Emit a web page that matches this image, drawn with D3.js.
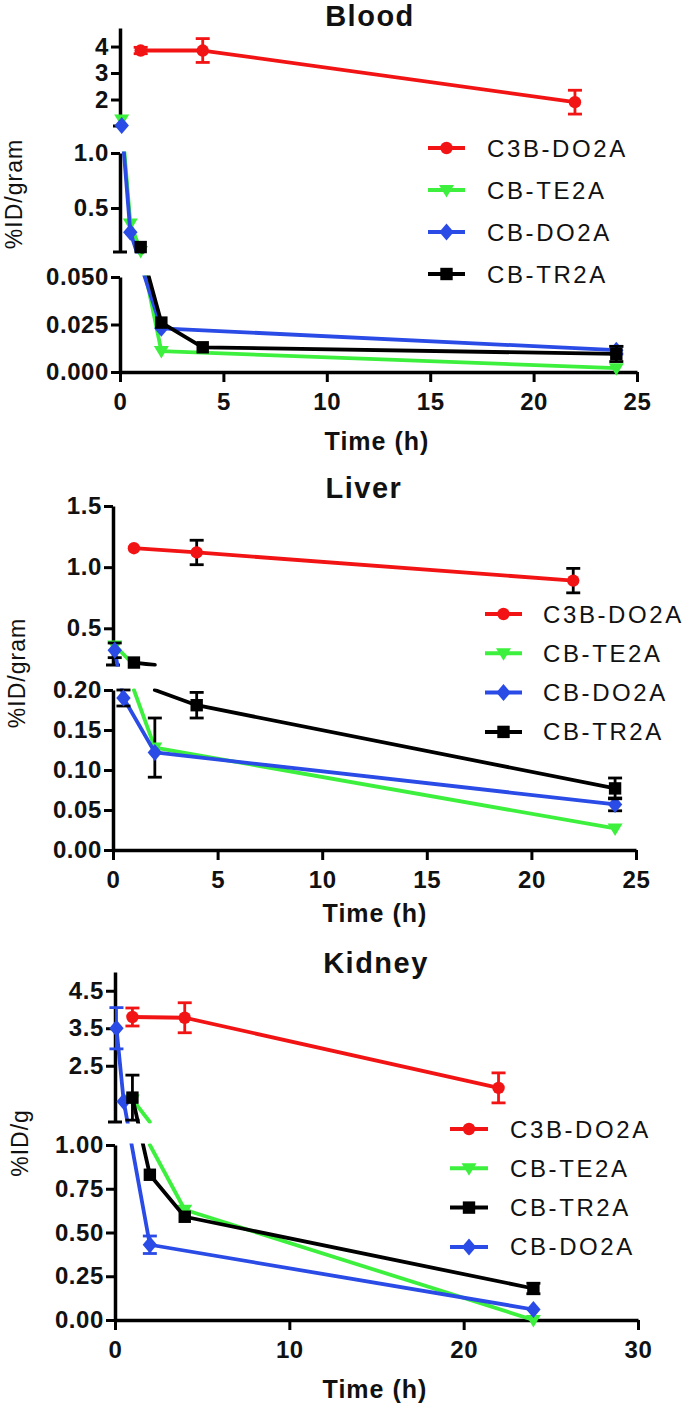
<!DOCTYPE html>
<html><head><meta charset="utf-8">
<script src="https://cdn.jsdelivr.net/npm/d3@7"></script>
<style>html,body{margin:0;padding:0;background:#fff;} svg{display:block;}</style>
</head><body>
<svg id="chart" width="687" height="1405"></svg>
<script>
// ---------------- DATA ----------------
const seriesNames = ["C3B-DO2A", "CB-TE2A", "CB-DO2A", "CB-TR2A"];
// each point: [time (h), mean, error]
const bloodC3B  = [[1,3.85,0.12],[4,3.85,0.45],[22,1.9,0.45]];
const bloodTE2A = [[0.083,1.25,0],[0.5,0.36,0],[1,0.11,0],[2,0.011,0],[24,0.002,0]];
const bloodDO2A = [[0.083,1.02,0],[0.5,0.28,0],[2,0.023,0],[24,0.0115,0.002]];
const bloodTR2A = [[1,0.145,0],[2,0.026,0],[4,0.013,0],[24,0.0095,0.004]];

const liverC3B  = [[1,1.155,0],[4,1.12,0.1],[22,0.89,0.1]];
const liverTE2A = [[0.083,0.36,0],[1,0.2,0],[2,0.128,0.037],[24,0.027,0]];
const liverDO2A = [[0.083,0.32,0.06],[0.5,0.19,0.01],[2,0.122,0],[24,0.057,0.008]];
const liverTR2A = [[1,0.22,0],[2,0.2,0],[4,0.181,0.016],[24,0.077,0.013]];

const kidneyC3B  = [[1,3.8,0.24],[4,3.78,0.4],[22,1.91,0.4]];
const kidneyTE2A = [[1,1.6,0],[2,1.0,0],[4,0.63,0],[24,0.0,0]];
const kidneyDO2A = [[0.083,3.5,0.55],[0.5,1.55,0],[2,0.43,0.05],[24,0.06,0]];
const kidneyTR2A = [[1,1.65,0.6],[2,0.83,0],[4,0.59,0],[24,0.18,0.03]];

const bloodSegDomains  = [[1.0,4.7],[0.1,1.0],[0,0.05]];
const bloodYTicks      = [[2,3,4],[0.5,1.0],[0,0.025,0.05]];
const bloodYFormats    = ["d",".1f",".3f"];
const bloodXTicks      = [0,5,10,15,20,25];

const liverSegDomains  = [[0.2,1.5],[0,0.2]];
const liverYTicks      = [[0.5,1.0,1.5],[0,0.05,0.1,0.15,0.2]];
const liverYFormats    = [".1f",".2f"];
const liverXTicks      = [0,5,10,15,20,25];

const kidneySegDomains = [[1.0,5.0],[0,1.0]];
const kidneyYTicks     = [[2.5,3.5,4.5],[0,0.25,0.5,0.75,1.0]];
const kidneyYFormats   = [".1f",".2f"];
const kidneyXTicks     = [0,10,20,30];

const panelTitles = ["Blood", "Liver", "Kidney"];
const yTitles = ["%ID/gram", "%ID/gram", "%ID/g"];
const xTitle = "Time (h)";

// ---------------- STYLE ----------------
const W = 687, H = 1405;
const FONT = "'Liberation Sans', Arial, Helvetica, sans-serif";
const colorOf = {"C3B-DO2A":"#f21414","CB-TE2A":"#3df03d","CB-DO2A":"#2a4be6","CB-TR2A":"#000000"};
const shapeOf = {"C3B-DO2A":"circle","CB-TE2A":"tri","CB-DO2A":"diamond","CB-TR2A":"square"};

const svg = d3.select("#chart");
const defs = svg.append("defs");
let clipId = 0;

function markerPath(shape) {
  const p = d3.path();
  if (shape === "circle") { p.arc(0,0,6.2,0,2*Math.PI); }
  else if (shape === "tri") { p.moveTo(-7.5,-5); p.lineTo(7.5,-5); p.lineTo(0,7.5); p.closePath(); }
  else if (shape === "diamond") { p.moveTo(0,-8.5); p.lineTo(7.2,0); p.lineTo(0,8.5); p.lineTo(-7.2,0); p.closePath(); }
  else { p.rect(-6.2,-6.2,12.4,12.4); }
  return p.toString();
}

function drawPanel(cfg) {
  const g = svg.append("g");
  const x = d3.scaleLinear().domain(cfg.xDomain).range([cfg.axisX, cfg.xEnd]);
  const segs = cfg.segDomains.map((d, i) => ({
    dom: d,
    range: cfg.segRanges[i],
    y: d3.scaleLinear().domain(d).range(cfg.segRanges[i])
  }));
  function cands(v) {
    const c = segs.filter(s => v >= s.dom[0] - 1e-9 && v <= s.dom[1] + 1e-9);
    if (c.length) return c;
    let best = segs[0], bd = Infinity;
    segs.forEach(s => {
      const d = Math.min(Math.abs(v - s.dom[0]), Math.abs(v - s.dom[1]));
      if (d < bd) { bd = d; best = s; }
    });
    return [best];
  }
  segs.forEach(s => {
    s.clip = "clip" + (clipId++);
    const y0 = Math.min(s.range[0], s.range[1]), y1 = Math.max(s.range[0], s.range[1]);
    defs.append("clipPath").attr("id", s.clip).append("rect")
      .attr("x", 0).attr("width", W).attr("y", y0 - 1.5).attr("height", y1 - y0 + 3);
  });

  // axes
  segs.forEach((s, i) => {
    const ax = d3.axisLeft(s.y).tickValues(cfg.yTicks[i]).tickFormat(d3.format(cfg.yFormats[i]))
      .tickSize(9).tickPadding(2).tickSizeOuter(0);
    const ag = g.append("g").attr("transform", `translate(${cfg.axisX},0)`).call(ax);
    ag.select(".domain").attr("stroke", "#000").attr("stroke-width", 3.5);
    ag.selectAll(".tick line").attr("stroke", "#000").attr("stroke-width", 3);
    ag.selectAll(".tick text").attr("fill", "#111").style("font-family", FONT)
      .style("font-size", "24px").style("font-weight", "bold").style("letter-spacing", "0.6px");
    if (i < segs.length - 1) {
      g.append("line").attr("x1", cfg.axisX - 7).attr("x2", cfg.axisX + 7)
        .attr("y1", s.range[0]).attr("y2", s.range[0]).attr("stroke", "#000").attr("stroke-width", 3);
    }
  });
  const xa = d3.axisBottom(x).tickValues(cfg.xTicks).tickFormat(d3.format("d"))
    .tickSize(10).tickPadding(11).tickSizeOuter(0);
  const xg = g.append("g").attr("transform", `translate(0,${cfg.xAxisY})`).call(xa);
  xg.select(".domain").attr("stroke", "#000").attr("stroke-width", 3.5);
  xg.selectAll(".tick line").attr("stroke", "#000").attr("stroke-width", 3);
  xg.selectAll(".tick text").attr("fill", "#111").style("font-family", FONT)
    .style("font-size", "24px").style("font-weight", "bold").style("letter-spacing", "0.6px");

  // series
  const line = d3.line();
  cfg.series.forEach(ser => {
    const col = colorOf[ser.name];
    const data = ser.data;
    let dstr = "";
    for (let i = 0; i < data.length - 1; i++) {
      const a = data[i], b = data[i + 1];
      const ca = cands(a[1]), cb = cands(b[1]);
      const shared = ca.find(s => cb.includes(s));
      const sa = shared || ca[0], sb = shared || cb[0];
      dstr += line([[x(a[0]), sa.y(a[1])], [x(b[0]), sb.y(b[1])]]);
    }
    segs.forEach(s => {
      g.append("g").attr("clip-path", `url(#${s.clip})`).append("path")
        .attr("d", dstr).attr("fill", "none").attr("stroke", col)
        .attr("stroke-width", 3.8).attr("stroke-linecap", "round").attr("stroke-linejoin", "round");
    });
    // points sitting exactly on a break boundary are not marked
    const shown = data.filter(d => cands(d[1]).length === 1);
    const ecol = cfg.errBlack ? "#000" : col;
    shown.filter(d => d[2] > 0).forEach(d => {
      const s = cands(d[1])[0];
      const cx = x(d[0]), yt = s.y(d[1] + d[2]), yb = s.y(d[1] - d[2]);
      const eg = g.append("g").attr("stroke", ecol).attr("stroke-width", 2.8);
      eg.append("line").attr("x1", cx).attr("x2", cx).attr("y1", yt).attr("y2", yb);
      eg.append("line").attr("x1", cx - 7).attr("x2", cx + 7).attr("y1", yt).attr("y2", yt);
      eg.append("line").attr("x1", cx - 7).attr("x2", cx + 7).attr("y1", yb).attr("y2", yb);
    });
    g.append("g").selectAll("path").data(shown).join("path")
      .attr("d", markerPath(shapeOf[ser.name]))
      .attr("transform", d => `translate(${x(d[0])},${cands(d[1])[0].y(d[1])})`)
      .attr("fill", col);
  });

  // titles
  g.append("text").attr("x", cfg.titleX).attr("y", cfg.titleY).attr("text-anchor", "middle")
    .style("font-family", FONT).style("font-size", "29px").style("font-weight", "bold")
    .style("letter-spacing", "1.5px").attr("fill", "#111").text(cfg.title);
  g.append("text").attr("x", cfg.xTitleX).attr("y", cfg.xTitleY).attr("text-anchor", "middle")
    .style("font-family", FONT).style("font-size", "25px").style("font-weight", "bold")
    .style("letter-spacing", "1px").attr("fill", "#111").text(xTitle);
  g.append("text").attr("transform", `translate(${cfg.yTitleX},${cfg.yTitleY}) rotate(-90)`)
    .attr("text-anchor", "middle").style("font-family", FONT).style("font-size", "23px")
    .style("letter-spacing", "1px").attr("fill", "#111").text(cfg.yTitle);

  // legend
  cfg.legendOrder.forEach((name, i) => {
    const cy = cfg.legY0 + i * cfg.legStep;
    const col = colorOf[name];
    g.append("line").attr("x1", cfg.legX0).attr("x2", cfg.legX1).attr("y1", cy).attr("y2", cy)
      .attr("stroke", col).attr("stroke-width", 4);
    g.append("path").attr("d", markerPath(shapeOf[name]))
      .attr("transform", `translate(${(cfg.legX0 + cfg.legX1) / 2},${cy})`).attr("fill", col);
    g.append("text").attr("x", cfg.legTextX).attr("y", cy + 8.5)
      .style("font-family", FONT).style("font-size", "24px").style("letter-spacing", "2.6px")
      .attr("fill", "#111").text(name);
  });
}

drawPanel({
  title: panelTitles[0], titleX: 370, titleY: 26,
  xTitleX: 377, xTitleY: 450, yTitle: yTitles[0], yTitleX: 22, yTitleY: 194,
  axisX: 120, xEnd: 637, xDomain: [0, 25], xAxisY: 372, xTicks: bloodXTicks,
  segDomains: bloodSegDomains, segRanges: [[126, 28], [252, 153], [372, 277]],
  yTicks: bloodYTicks, yFormats: bloodYFormats, errBlack: false,
  series: [
    {name: seriesNames[0], data: bloodC3B},
    {name: seriesNames[1], data: bloodTE2A},
    {name: seriesNames[2], data: bloodDO2A},
    {name: seriesNames[3], data: bloodTR2A}
  ],
  legendOrder: [seriesNames[0], seriesNames[1], seriesNames[2], seriesNames[3]],
  legX0: 428, legX1: 465, legTextX: 487, legY0: 148, legStep: 42
});

drawPanel({
  title: panelTitles[1], titleX: 364, titleY: 498,
  xTitleX: 375, xTitleY: 922, yTitle: yTitles[1], yTitleX: 25, yTitleY: 673,
  axisX: 113, xEnd: 636, xDomain: [0, 25], xAxisY: 850, xTicks: liverXTicks,
  segDomains: liverSegDomains, segRanges: [[665, 506], [850, 690]],
  yTicks: liverYTicks, yFormats: liverYFormats, errBlack: true,
  series: [
    {name: seriesNames[0], data: liverC3B},
    {name: seriesNames[1], data: liverTE2A},
    {name: seriesNames[2], data: liverDO2A},
    {name: seriesNames[3], data: liverTR2A}
  ],
  legendOrder: [seriesNames[0], seriesNames[1], seriesNames[2], seriesNames[3]],
  legX0: 485, legX1: 522, legTextX: 543, legY0: 614, legStep: 39.3
});

drawPanel({
  title: panelTitles[2], titleX: 376, titleY: 973,
  xTitleX: 375, xTitleY: 1398, yTitle: yTitles[2], yTitleX: 28, yTitleY: 1143,
  axisX: 115, xEnd: 638, xDomain: [0, 30], xAxisY: 1320, xTicks: kidneyXTicks,
  segDomains: kidneySegDomains, segRanges: [[1122, 972], [1320, 1145]],
  yTicks: kidneyYTicks, yFormats: kidneyYFormats, errBlack: false,
  series: [
    {name: seriesNames[0], data: kidneyC3B},
    {name: seriesNames[1], data: kidneyTE2A},
    {name: seriesNames[2], data: kidneyDO2A},
    {name: seriesNames[3], data: kidneyTR2A}
  ],
  legendOrder: [seriesNames[0], seriesNames[1], seriesNames[3], seriesNames[2]],
  legX0: 450, legX1: 488, legTextX: 510, legY0: 1129, legStep: 39.3
});
</script>
</body></html>
